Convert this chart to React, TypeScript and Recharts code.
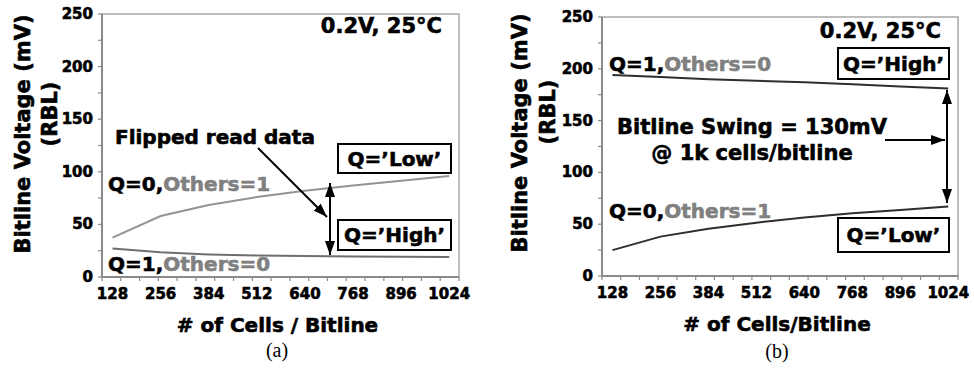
import React from 'react';
import { LineChart, Line, XAxis, YAxis, ReferenceArea, Label } from 'recharts';

// cells per bitline (x positions of the simulated points)
const cells = [128, 256, 384, 512, 640, 768, 896, 1024];

// (a) conventional bitline: read data gets flipped
const aQ0Others1 = [37.5, 58, 68.5, 76, 82, 87, 91.5, 96];
const aQ1Others0 = [27, 23.5, 21.5, 20.5, 20, 19.5, 19.3, 19];

// (b) proposed bitline: 130mV swing at 1k cells
const bQ1Others0 = [194, 192, 190, 188.5, 187, 185, 183, 181];
const bQ0Others1 = [25, 38, 45.5, 51.5, 56.5, 60.5, 63.7, 67];

const xLabelTicks = [128, 256, 384, 512, 640, 768, 896, 1024];
const xMinorTicks = [100, 150, 200, 250, 300, 350, 400, 450, 500, 550, 600, 650, 700, 750, 800, 850, 900, 950, 1000, 1050];
const yTicks = [0, 25, 50, 75, 100, 125, 150, 175, 200, 225, 250];
const yLabelTicks = [0, 50, 100, 150, 200, 250];

const FONT = '"DejaVu Sans", sans-serif';
const AXIS = '#8a8a8a';
const GRAY_TXT = '#808080';
const HEAVY = 0.6; // extra outline so the bold text looks as heavy as the scan

const allXTicks = [...xMinorTicks, ...xLabelTicks].sort((a, b) => a - b);

function XTick({ x, y, payload }: any) {
  const v = payload.value;
  if (xLabelTicks.includes(v)) {
    return (
      <text x={x} y={y + 17} textAnchor="middle" dominantBaseline="central"
        fontFamily={FONT} fontWeight="bold" fontSize={15} fill="#000" stroke="#000" strokeWidth={HEAVY}>{v}</text>
    );
  }
  return <line x1={x} y1={y} x2={x} y2={y + 4} stroke={AXIS} strokeWidth={1.2} />;
}

function YTick({ x, y, payload }: any) {
  const v = payload.value;
  return (
    <g>
      <line x1={x - 4} y1={y} x2={x} y2={y} stroke={AXIS} strokeWidth={1.2} />
      {yLabelTicks.includes(v) && (
        <text x={x - 9} y={y} textAnchor="end" dominantBaseline="central"
          fontFamily={FONT} fontWeight="bold" fontSize={15} fill="#000" stroke="#000" strokeWidth={HEAVY}>{v}</text>
      )}
    </g>
  );
}

const yTitle = (dx1: number, dx2: number, dy1: number, dy2: number) => ({ viewBox }: any) => {
  const cy = viewBox.y + viewBox.height / 2;
  const x1 = viewBox.x + dx1;
  const x2 = viewBox.x + dx2;
  return (
    <g fontFamily={FONT} fontWeight="bold" fontSize={21} fill="#000" stroke="#000" strokeWidth={HEAVY}>
      <text x={x1} y={cy + dy1} textAnchor="middle" dominantBaseline="central"
        transform={`rotate(-90 ${x1} ${cy + dy1})`}>Bitline Voltage (mV)</text>
      <text x={x2} y={cy + dy2} textAnchor="middle" dominantBaseline="central"
        transform={`rotate(-90 ${x2} ${cy + dy2})`}>(RBL)</text>
    </g>
  );
};

const xTitle = (text: string) => ({ viewBox }: any) => (
  <text x={viewBox.x + viewBox.width / 2 - 3} y={viewBox.y + 55} textAnchor="middle"
    fontFamily={FONT} fontWeight="bold" fontSize={20} fill="#000" stroke="#000" strokeWidth={HEAVY}>{text}</text>
);

const boldTxt = { fontFamily: FONT, fontWeight: 'bold' as const, fontSize: 20, fill: '#000', stroke: '#000', strokeWidth: HEAVY };
const grayPaint = { fill: GRAY_TXT, stroke: GRAY_TXT };

function Arrowhead({ id }: { id: string }) {
  return (
    <marker id={id} markerUnits="userSpaceOnUse" markerWidth={14} markerHeight={10}
      viewBox="0 0 14 10" refX={14} refY={5} orient="auto-start-reverse">
      <path d="M0,0 L14,5 L0,10 z" fill="#000" />
    </marker>
  );
}

function NotesA() {
  return (
    <svg width={487} height={372} style={{ position: 'absolute', left: 0, top: 0, pointerEvents: 'none' }}>
      <defs><Arrowhead id="arrA" /></defs>
      <text x={442} y={33} textAnchor="end" {...boldTxt} fontSize={21}>0.2V, 25°C</text>
      <text x={115} y={144} {...boldTxt}>Flipped read data</text>
      <line x1={258} y1={148} x2={327} y2={217} stroke="#000" strokeWidth={2} markerEnd="url(#arrA)" />
      <line x1={330} y1={183} x2={330} y2={255} stroke="#000" strokeWidth={2}
        markerStart="url(#arrA)" markerEnd="url(#arrA)" />
      <rect x={338} y={144} width={113} height={29} fill="#fff" stroke="#000" strokeWidth={2} />
      <text x={394.5} y={158.5} textAnchor="middle" dominantBaseline="central" {...boldTxt}>Q=’Low’</text>
      <rect x={338} y={220} width={113} height={30} fill="#fff" stroke="#000" strokeWidth={2} />
      <text x={394.5} y={235} textAnchor="middle" dominantBaseline="central" {...boldTxt}>Q=’High’</text>
      <text x={108} y={191} {...boldTxt}>
        <tspan>Q=0,</tspan><tspan {...grayPaint}>Others=1</tspan>
      </text>
      <text x={108} y={271} {...boldTxt}>
        <tspan>Q=1,</tspan><tspan {...grayPaint}>Others=0</tspan>
      </text>
      <text x={277} y={357} textAnchor="middle" fontFamily='"Liberation Serif", serif' fontSize={20}>(a)</text>
    </svg>
  );
}

function NotesB() {
  return (
    <svg width={487} height={372} style={{ position: 'absolute', left: 0, top: 0, pointerEvents: 'none' }}>
      <defs><Arrowhead id="arrB" /></defs>
      <text x={454} y={38} textAnchor="end" {...boldTxt} fontSize={21}>0.2V, 25°C</text>
      <text x={122} y={71} {...boldTxt}>
        <tspan>Q=1,</tspan><tspan {...grayPaint}>Others=0</tspan>
      </text>
      <rect x={351} y={48} width={111} height={31} fill="#fff" stroke="#000" strokeWidth={2} />
      <text x={406.5} y={63.5} textAnchor="middle" dominantBaseline="central" {...boldTxt}>Q=’High’</text>
      <text x={265} y={134} textAnchor="middle" {...boldTxt} fontSize={21}>Bitline Swing = 130mV</text>
      <text x={265} y={160} textAnchor="middle" {...boldTxt} fontSize={21}>@ 1k cells/bitline</text>
      <line x1={398} y1={140} x2={458} y2={140} stroke="#000" strokeWidth={2} markerEnd="url(#arrB)" />
      <line x1={460} y1={90} x2={460} y2={203} stroke="#000" strokeWidth={2}
        markerStart="url(#arrB)" markerEnd="url(#arrB)" />
      <text x={122} y={218} {...boldTxt}>
        <tspan>Q=0,</tspan><tspan {...grayPaint}>Others=1</tspan>
      </text>
      <rect x={351} y={218} width={111} height={34} fill="#fff" stroke="#000" strokeWidth={2} />
      <text x={406.5} y={235} textAnchor="middle" dominantBaseline="central" {...boldTxt}>Q=’Low’</text>
      <text x={290} y={358} textAnchor="middle" fontFamily='"Liberation Serif", serif' fontSize={20}>(b)</text>
    </svg>
  );
}

const dataA = cells.map((c, i) => ({ cells: c, q0: aQ0Others1[i], q1: aQ1Others0[i] }));
const dataB = cells.map((c, i) => ({ cells: c, q0: bQ0Others1[i], q1: bQ1Others0[i] }));

function Panel({ data, margin, yWidth, xHeight, title, colors, dims }: any) {
  return (
    <LineChart width={487} height={372} data={data} margin={margin}>
      <ReferenceArea x1={100} x2={1050} y1={0} y2={250} fill="none" stroke="#a8a8a8" strokeWidth={1.5} />
      <XAxis dataKey="cells" type="number" domain={[100, 1050]} ticks={allXTicks} interval={0}
        tick={<XTick />} tickLine={false} tickSize={0} tickMargin={0} height={xHeight}
        axisLine={{ stroke: AXIS, strokeWidth: 2 }}>
        <Label content={xTitle(title)} />
      </XAxis>
      <YAxis type="number" domain={[0, 250]} ticks={yTicks} interval={0} width={yWidth}
        tick={<YTick />} tickLine={false} tickSize={0} tickMargin={0}
        axisLine={{ stroke: AXIS, strokeWidth: 2 }}>
        <Label content={yTitle(dims[0], dims[1], dims[2], dims[3])} />
      </YAxis>
      <Line type="linear" dataKey="q0" stroke={colors[0]} strokeWidth={2} dot={false} isAnimationActive={false} />
      <Line type="linear" dataKey="q1" stroke={colors[1]} strokeWidth={2} dot={false} isAnimationActive={false} />
    </LineChart>
  );
}

export default function App() {
  return (
    <div style={{ position: 'absolute', left: 0, top: 0, width: 974, height: 372, background: '#fff' }}>
      <div style={{ position: 'absolute', left: 0, top: 0, width: 487, height: 372 }}>
        <Panel data={dataA} margin={{ top: 14, right: 28, bottom: 0, left: 0 }} yWidth={102} xHeight={95}
          title="# of Cells / Bitline" colors={['#939393', '#6e6e6e']} dims={[23, 50, -11.5, -31.5]} />
        <NotesA />
      </div>
      <div style={{ position: 'absolute', left: 487, top: 0, width: 487, height: 372 }}>
        <Panel data={dataB} margin={{ top: 17, right: 16, bottom: 0, left: 0 }} yWidth={115} xHeight={96}
          title="# of Cells/Bitline" colors={['#2e2e2e', '#2e2e2e']} dims={[33, 61, -13.5, -34.5]} />
        <NotesB />
      </div>
    </div>
  );
}
